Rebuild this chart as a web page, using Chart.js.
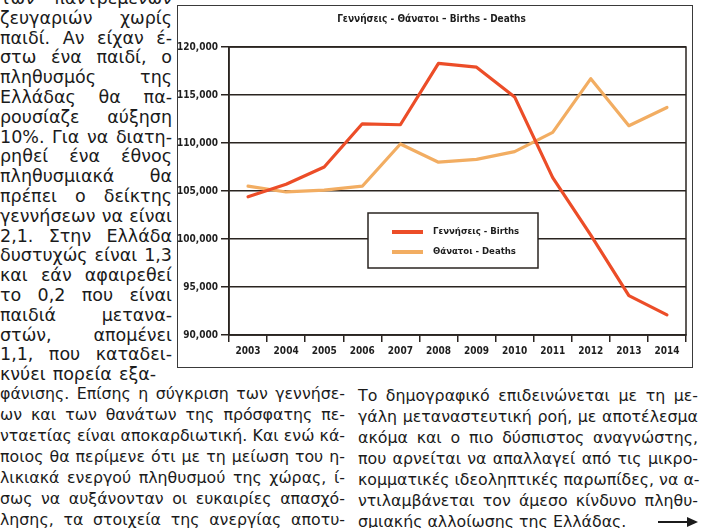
<!DOCTYPE html>
<html lang="el">
<head>
<meta charset="utf-8">
<script src="https://cdn.jsdelivr.net/npm/chart.js@4.4.1/dist/chart.umd.min.js"></script>
<style>
  body { margin: 0; width: 701px; height: 528px; overflow: hidden; position: relative; background: #fff; color: #1b1b1b; font-family: 'DejaVu Sans', sans-serif; }
  .col { position: absolute; font-size: 15.8px; }
  .col div { white-space: nowrap; text-align: justify; text-align-last: justify; }
  .col div.fin { text-align-last: left; }
  #izq { font-size: 17.5px; line-height: 19.8px; }
  .abajo { line-height: 21px; }
  #caja { position: absolute; left: 177px; top: 5px; width: 516px; height: 363px; border: 1.5px solid #3a3a3a; box-sizing: border-box; background: #fff; }
  #grafico { position: absolute; left: -1.5px; top: -1.5px; }
  .flecha { position: absolute; right: 10px; top: 10px; width: 30px; height: 2px; background: #1b1b1b; }
  .flecha:after { content: ''; position: absolute; right: -10px; top: -4px; border-left: 11px solid #1b1b1b; border-top: 5px solid transparent; border-bottom: 5px solid transparent; }
</style>
</head>
<body>

<div class="col" id="izq" style="left:0; top:-11px; width:172px;">
  <div>των παντρεμένων</div>
  <div>ζευγαριών χωρίς</div>
  <div>παιδί. Αν είχαν έ-</div>
  <div>στω ένα παιδί, ο</div>
  <div>πληθυσμός της</div>
  <div>Ελλάδας θα πα-</div>
  <div>ρουσίαζε αύξηση</div>
  <div>10%. Για να διατη-</div>
  <div>ρηθεί ένα έθνος</div>
  <div>πληθυσμιακά θα</div>
  <div>πρέπει ο δείκτης</div>
  <div>γεννήσεων να είναι</div>
  <div>2,1. Στην Ελλάδα</div>
  <div>δυστυχώς είναι 1,3</div>
  <div>και εάν αφαιρεθεί</div>
  <div>το 0,2 που είναι</div>
  <div>παιδιά μετανα-</div>
  <div>στών, απομένει</div>
  <div>1,1, που καταδει-</div>
  <div style="width:156px;">κνύει πορεία εξα-</div>
</div>

<div class="col abajo" style="left:0; top:382.5px; width:345px;">
  <div>φάνισης. Επίσης η σύγκριση των γεννήσε-</div>
  <div>ων και των θανάτων της πρόσφατης πε-</div>
  <div>νταετίας είναι αποκαρδιωτική. Και ενώ κά-</div>
  <div>ποιος θα περίμενε ότι με τη μείωση του η-</div>
  <div>λικιακά ενεργού πληθυσμού της χώρας, ί-</div>
  <div>σως να αυξάνονταν οι ευκαιρίες απασχό-</div>
  <div>λησης, τα στοιχεία της ανεργίας αποτυ-</div>
</div>

<div class="col abajo" style="left:358px; top:385px; width:340px;">
  <div>Το δημογραφικό επιδεινώνεται με τη με-</div>
  <div>γάλη μεταναστευτική ροή, με αποτέλεσμα</div>
  <div>ακόμα και ο πιο δύσπιστος αναγνώστης,</div>
  <div>που αρνείται να απαλλαγεί από τις μικρο-</div>
  <div>κομματικές ιδεοληπτικές παρωπίδες, να α-</div>
  <div>ντιλαμβάνεται τον άμεσο κίνδυνο πληθυ-</div>
  <div class="fin" style="position:relative;">σμιακής αλλοίωσης της Ελλάδας.<span class="flecha"></span></div>
</div>

<div id="caja"><canvas id="grafico" width="516" height="363"></canvas></div>

<script>
var anios = ['2003', '2004', '2005', '2006', '2007', '2008', '2009', '2010', '2011', '2012', '2013', '2014'];
var gennhseis = [104400, 105700, 107500, 112000, 111900, 118300, 117900, 114800, 106400, 100400, 94100, 92100];
var thanatoi = [105500, 104900, 105100, 105500, 109900, 108000, 108300, 109100, 111100, 116700, 111800, 113700];
var etiquetasSeries = ['Γεννήσεις - Births', 'Θάνατοι - Deaths'];
var ejeY = [90000, 120000, 5000]; // min, max, paso
var titulo = 'Γεννήσεις - Θάνατοι – Births - Deaths';

var fuente = "'DejaVu Sans Condensed', 'Liberation Sans Narrow', sans-serif";
var oscuro = '#2a2420';

// marco del area y leyenda dentro del grafico
var marcoYLeyenda = {
    id: 'marcoYLeyenda',
    afterDatasetsDraw: function(chart) {
        var ctx = chart.ctx, a = chart.chartArea;
        ctx.save();
        ctx.strokeStyle = oscuro;
        ctx.lineWidth = 1.5;
        ctx.strokeRect(a.left, a.top, a.right - a.left, a.bottom - a.top);

        var x = a.left + 139, y = a.top + 166;
        ctx.fillStyle = '#fff';
        ctx.fillRect(x, y, 170, 55);
        ctx.strokeRect(x, y, 170, 55);
        chart.data.datasets.forEach(function(ds, i) {
            var yy = y + 19 + i * 20;
            ctx.strokeStyle = ds.borderColor;
            ctx.lineWidth = 4;
            ctx.beginPath();
            ctx.moveTo(x + 24, yy);
            ctx.lineTo(x + 55, yy);
            ctx.stroke();
            ctx.fillStyle = '#1e1e1e';
            ctx.font = 'bold 9.5px ' + fuente;
            ctx.textBaseline = 'middle';
            ctx.fillText(ds.label, x + 65, yy);
        });
        ctx.restore();
    }
};

var ctx = document.getElementById('grafico').getContext('2d');
var myChart = new Chart(ctx, {
    type: 'line',
    data: {
        labels: anios,
        datasets: [{
            label: etiquetasSeries[0],
            data: gennhseis,
            borderColor: '#ec4d28',
            borderWidth: 3.2,
            pointRadius: 0,
            tension: 0,
            borderJoinStyle: 'round',
            borderCapStyle: 'round'
        },
        {
            label: etiquetasSeries[1],
            data: thanatoi,
            borderColor: '#f2ad62',
            borderWidth: 3.2,
            pointRadius: 0,
            tension: 0,
            borderJoinStyle: 'round',
            borderCapStyle: 'round'
        }]
    },
    options: {
        responsive: false,
        animation: false,
        layout: { padding: { left: 0, right: 7, top: 0, bottom: 0 } },
        plugins: {
            legend: { display: false },
            tooltip: { enabled: false },
            title: {
                display: true,
                text: titulo,
                color: '#1e1e1e',
                font: { family: fuente, size: 10, weight: 'bold' },
                padding: { top: 8.5, bottom: 21.5 }
            }
        },
        scales: {
            x: {
                offset: true,
                grid: { offset: true, drawOnChartArea: false, drawTicks: true, tickLength: 7, color: oscuro, lineWidth: 1.5 },
                border: { display: true, color: oscuro, width: 1.5 },
                ticks: { color: '#1e1e1e', font: { family: fuente, size: 10, weight: 'bold' }, padding: 3, maxRotation: 0, autoSkip: false },
                afterFit: function(s) { s.height = 33; }
            },
            y: {
                min: ejeY[0],
                max: ejeY[1],
                grid: { color: oscuro, lineWidth: 1.5, tickLength: 8 },
                border: { display: true, color: oscuro, width: 1.5 },
                ticks: {
                    stepSize: ejeY[2],
                    color: '#1e1e1e',
                    padding: 3,
                    font: { family: fuente, size: 10, weight: 'bold' },
                    callback: function(v) { return v.toLocaleString('en-US'); }
                },
                afterFit: function(s) { s.width = 52; }
            }
        }
    },
    plugins: [marcoYLeyenda]
});
</script>
</body>
</html>
